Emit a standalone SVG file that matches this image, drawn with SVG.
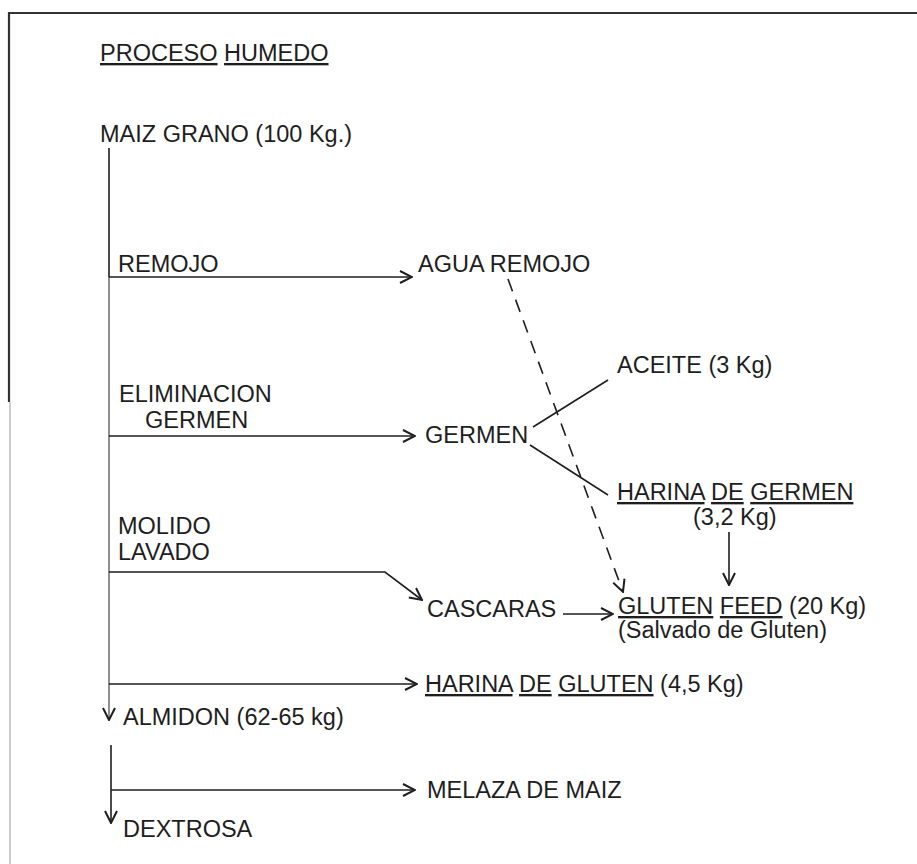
<svg xmlns="http://www.w3.org/2000/svg" width="917" height="864" viewBox="0 0 917 864">
<style>
text{font-family:"Liberation Sans",Arial,Helvetica,sans-serif;font-size:23.5px;fill:#1e1e1e}
.u{text-decoration:underline}
.ln{stroke:#1e1e1e;stroke-width:1.6;fill:none}
.th{stroke:#444;stroke-width:1.2;fill:none}
.ds{stroke:#1e1e1e;stroke-width:1.6;fill:none;stroke-dasharray:13 9}
</style>
<defs>
<marker id="ah" viewBox="0 0 14 14" refX="13" refY="7" markerWidth="14" markerHeight="14" markerUnits="userSpaceOnUse" orient="auto">
<path d="M1,1 L13,7 L1,13" fill="none" stroke="#1e1e1e" stroke-width="2"/>
</marker>
</defs>
<rect width="917" height="864" fill="#fff"/>
<g id="frame">
<line x1="8" y1="13" x2="917" y2="13" stroke="#333" stroke-width="2.2"/>
<line x1="9" y1="12" x2="9" y2="402" stroke="#333" stroke-width="2.2"/>
<line x1="10" y1="402" x2="10" y2="864" stroke="#aaa" stroke-width="1.2"/>
</g>
<g id="title"><text x="100" y="61" font-size="23"><tspan class="u">PROCESO</tspan> <tspan class="u">HUMEDO</tspan></text></g>
<g id="connectors">
<line class="ln" x1="109" y1="148" x2="109" y2="277"/>
<line class="th" x1="109" y1="277" x2="109" y2="720" marker-end="url(#ah)"/>
<line class="ln" x1="109" y1="277" x2="412" y2="277" marker-end="url(#ah)"/>
<line class="ln" x1="109" y1="436" x2="415" y2="436" marker-end="url(#ah)"/>
<polyline class="ln" points="109,572 385,572 422,600" marker-end="url(#ah)"/>
<line class="ln" x1="563" y1="614" x2="613" y2="614" marker-end="url(#ah)"/>
<line class="ds" x1="508" y1="279" x2="623" y2="592" marker-end="url(#ah)"/>
<line class="ln" x1="533" y1="427" x2="608" y2="380"/>
<line class="ln" x1="530" y1="445" x2="608" y2="495"/>
<line class="ln" x1="729" y1="532" x2="729" y2="585" marker-end="url(#ah)"/>
<line class="ln" x1="109" y1="684" x2="417" y2="684" marker-end="url(#ah)"/>
<line class="ln" x1="111" y1="745" x2="111" y2="823" marker-end="url(#ah)"/>
<line class="ln" x1="111" y1="790" x2="415" y2="790" marker-end="url(#ah)"/>
</g>
<g id="maiz"><text x="100" y="142">MAIZ GRANO (100 Kg.)</text></g>
<g id="remojo"><text x="118" y="272">REMOJO</text></g>
<g id="agua"><text x="418" y="272">AGUA REMOJO</text></g>
<g id="elim"><text x="119" y="402">ELIMINACION</text><text x="145" y="428">GERMEN</text></g>
<g id="germen"><text x="425" y="443">GERMEN</text></g>
<g id="aceite"><text x="617" y="373">ACEITE (3 Kg)</text></g>
<g id="harinagermen"><text x="617" y="500"><tspan class="u">HARINA</tspan> <tspan class="u">DE</tspan> <tspan class="u">GERMEN</tspan></text><text x="693" y="525">(3,2 Kg)</text></g>
<g id="molido"><text x="118" y="534">MOLIDO</text><text x="118" y="560">LAVADO</text></g>
<g id="cascaras"><text x="427" y="617">CASCARAS</text></g>
<g id="glutenfeed"><text x="618" y="614"><tspan class="u">GLUTEN</tspan> <tspan class="u">FEED</tspan> (20 Kg)</text><text x="618" y="638">(Salvado de Gluten)</text></g>
<g id="harinagluten"><text x="425" y="692"><tspan class="u">HARINA</tspan> <tspan class="u">DE</tspan> <tspan class="u">GLUTEN</tspan> (4,5 Kg)</text></g>
<g id="almidon"><text x="123" y="725">ALMIDON (62-65 kg)</text></g>
<g id="melaza"><text x="427" y="798">MELAZA DE MAIZ</text></g>
<g id="dextrosa"><text x="123" y="837">DEXTROSA</text></g>
</svg>
